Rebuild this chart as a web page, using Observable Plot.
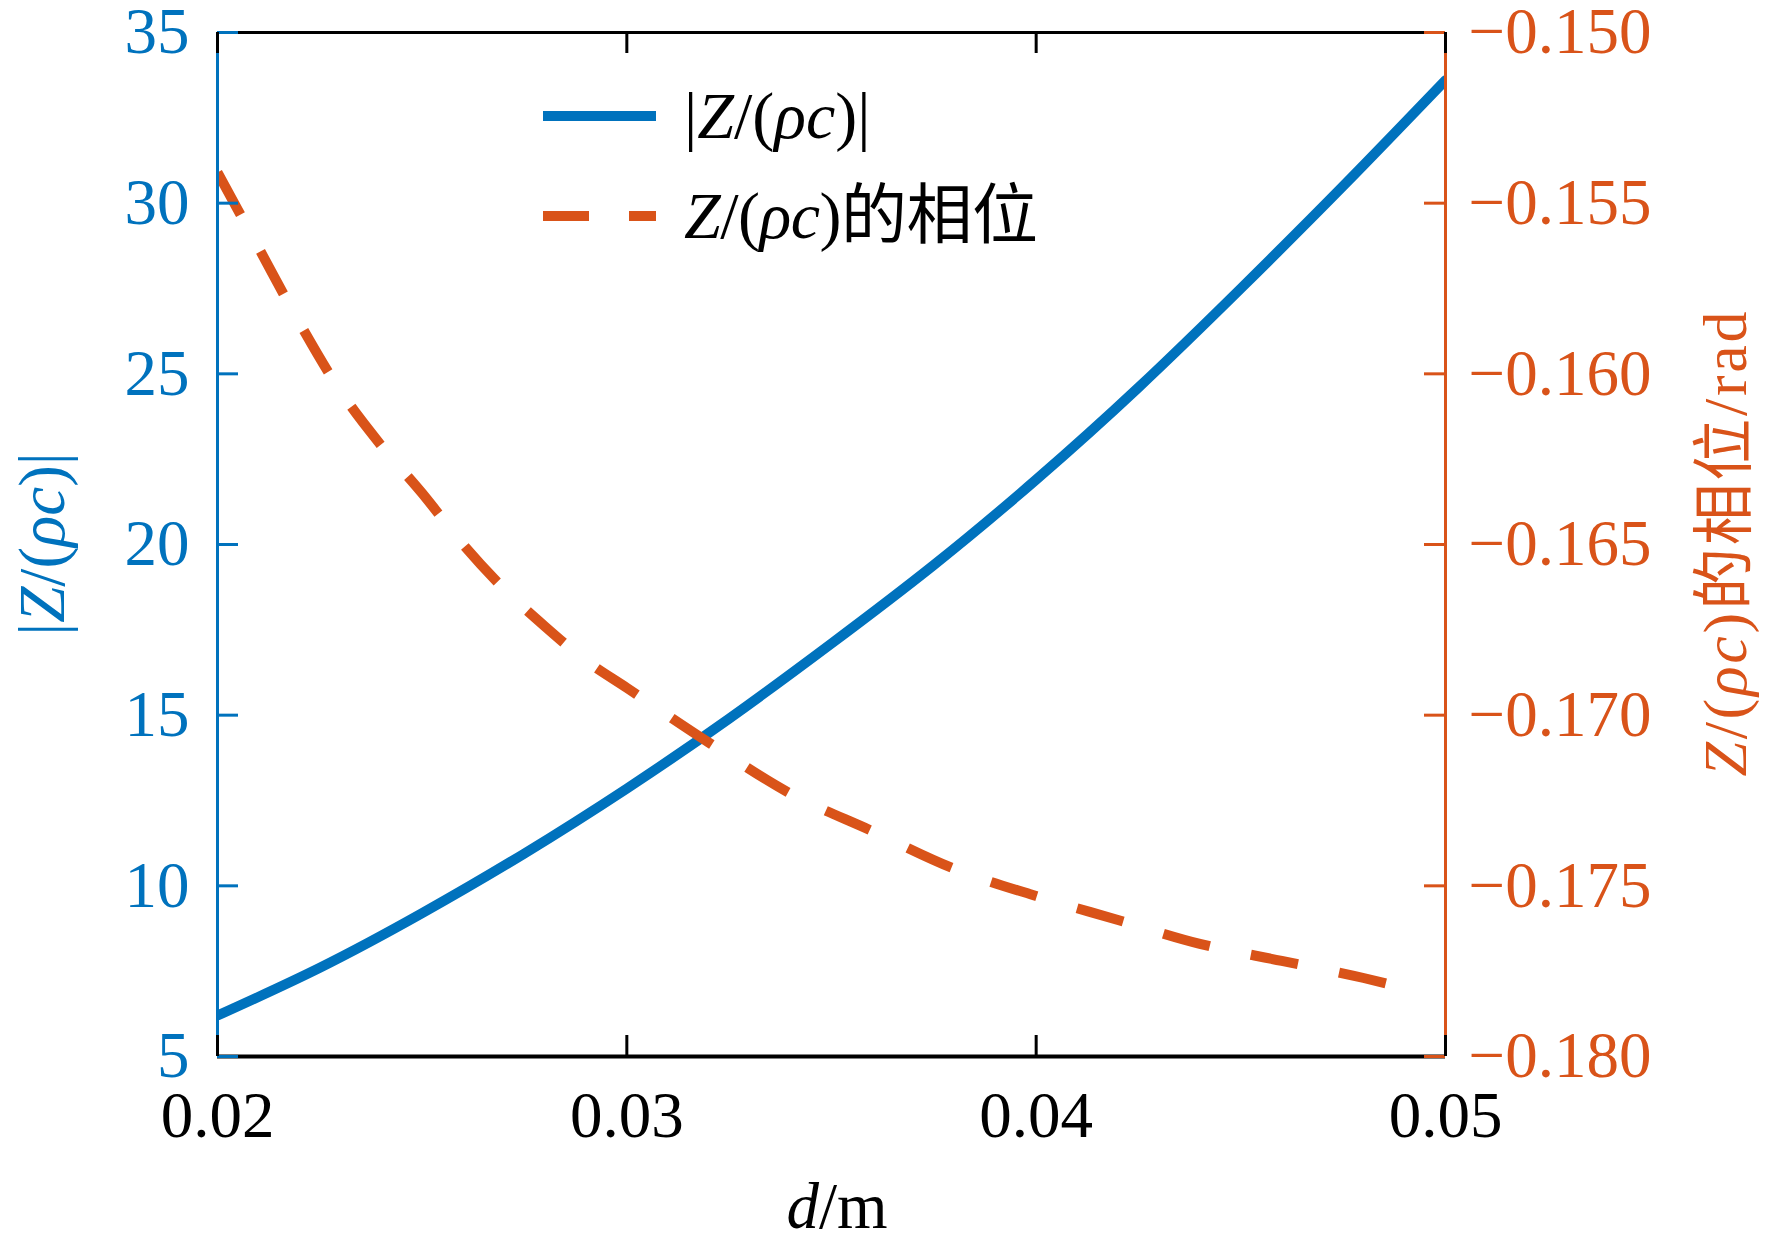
<!DOCTYPE html>
<html>
<head>
<meta charset="utf-8">
<script src="https://cdn.jsdelivr.net/npm/d3@7"></script>
<script src="https://cdn.jsdelivr.net/npm/@observablehq/plot@0.6"></script>
<style>
  html, body { margin: 0; padding: 0; background: #fff; }
  #chart svg { display: block; }
</style>
</head>
<body>
<div id="chart"></div>
<script>
// ---- data ----
const xDomain = [0.02, 0.05];
const leftDomain = [5, 35];
const rightDomain = [-0.180, -0.150];
const xTicks = [0.02, 0.03, 0.04, 0.05];
const leftTicks = [5, 10, 15, 20, 25, 30, 35];
const rightTicks = [-0.180, -0.175, -0.170, -0.165, -0.160, -0.155, -0.150];

const magD = [0.02, 0.0225, 0.025, 0.0275, 0.03, 0.0325, 0.035, 0.0375, 0.04, 0.0425, 0.045, 0.0475, 0.05];
const magV = [6.2, 7.6, 9.2, 10.95, 12.85, 14.9, 17.1, 19.4, 21.9, 24.6, 27.5, 30.5, 33.6];

const phaseD = [0.02, 0.021, 0.022, 0.023, 0.024, 0.025, 0.026, 0.027, 0.028, 0.029, 0.030, 0.032, 0.034, 0.036, 0.038, 0.040, 0.042, 0.044, 0.046, 0.048, 0.049];
const phaseV = [-0.1541, -0.1563, -0.1585, -0.1605, -0.1621, -0.1635, -0.1650, -0.1663, -0.1674, -0.1684, -0.1692, -0.1708, -0.1723, -0.1734, -0.1745, -0.1753, -0.1760, -0.1767, -0.1772, -0.1777, -0.1780];

// ---- styles ----
const BLUE = "#0072BD";
const ORANGE = "#D95319";
const FONT = "'Liberation Serif', 'Noto Sans CJK SC', serif";
const W = 1772, H = 1249, mL = 217, mR = 327, mT = 32, mB = 193;
const pw = W - mL - mR, ph = H - mT - mB;

// map right-axis values onto the left scale (dual axis)
const toLeft = v => leftDomain[0] + (v - rightDomain[0]) / (rightDomain[1] - rightDomain[0]) * (leftDomain[1] - leftDomain[0]);
const fromLeft = y => rightDomain[0] + (y - leftDomain[0]) / (leftDomain[1] - leftDomain[0]) * (rightDomain[1] - rightDomain[0]);

const magData = magD.map((d, i) => ({d, v: magV[i]}));
const phaseData = phaseD.map((d, i) => ({d, v: phaseV[i]}));

const chart = Plot.plot({
  width: W, height: H,
  marginLeft: mL, marginRight: mR, marginTop: mT, marginBottom: mB,
  style: {fontFamily: FONT, background: "#fff", overflow: "visible"},
  x: {domain: xDomain, axis: null},
  y: {domain: leftDomain, axis: null},
  marks: [
    Plot.line(magData, {x: "d", y: "v", stroke: BLUE, strokeWidth: 10, curve: "natural", clip: true}),
    Plot.line(phaseData, {x: "d", y: p => toLeft(p.v), stroke: ORANGE, strokeWidth: 10, strokeDasharray: "48,42", strokeLinecap: "butt", curve: "monotone-x", clip: true}),
    Plot.ruleY([leftDomain[1]], {stroke: "black", strokeWidth: 3}),
    Plot.ruleY([leftDomain[0]], {stroke: "black", strokeWidth: 4}),
    Plot.ruleX([xDomain[0]], {stroke: BLUE, strokeWidth: 3}),
    Plot.ruleX([xDomain[1]], {stroke: ORANGE, strokeWidth: 3}),
    Plot.tickY(leftTicks, {y: d => d, stroke: BLUE, strokeWidth: 3, insetRight: pw - 21}),
    Plot.tickY(rightTicks.map(toLeft), {y: d => d, stroke: ORANGE, strokeWidth: 3, insetLeft: pw - 21}),
    Plot.tickX(xTicks, {x: d => d, stroke: "black", strokeWidth: 3, insetTop: ph - 21}),
    Plot.tickX(xTicks, {x: d => d, stroke: "black", strokeWidth: 3, insetBottom: ph - 21}),
    Plot.axisY({ticks: leftTicks, tickSize: 0, tickPadding: 28, fontSize: 65, color: BLUE, fill: BLUE, label: null}),
    Plot.axisY({anchor: "right", ticks: rightTicks.map(toLeft), tickSize: 0, tickPadding: 23, fontSize: 65, color: ORANGE, fill: ORANGE, label: null,
      tickFormat: y => "\u2212" + Math.abs(fromLeft(y)).toFixed(3)}),
    Plot.axisX({ticks: xTicks, tickSize: 0, tickPadding: 34, fontSize: 65, color: "black", fill: "black", label: null,
      tickFormat: d => d.toFixed(2)})
  ]
});
document.getElementById("chart").append(chart);

// ---- rich text: legend and axis titles ----
const svg = d3.select(chart);
function rich(g, parts) {
  parts.forEach(([t, it]) => {
    const s = g.append("tspan").text(t);
    if (it) s.attr("font-style", "italic");
  });
  return g;
}
const over = svg.append("g").attr("font-family", FONT);

// legend
over.append("line").attr("x1", 543).attr("x2", 656).attr("y1", 116).attr("y2", 116)
  .attr("stroke", BLUE).attr("stroke-width", 10);
over.append("line").attr("x1", 543).attr("x2", 656).attr("y1", 216).attr("y2", 216)
  .attr("stroke", ORANGE).attr("stroke-width", 10).attr("stroke-dasharray", "46,40");
rich(over.append("text").attr("x", 684).attr("y", 138).attr("text-anchor", "start").attr("font-size", 66).attr("fill", "black"),
  [["|", false], ["Z", true], ["/(", false], ["ρc", true], [")|", false]]);
rich(over.append("text").attr("x", 684).attr("y", 238).attr("text-anchor", "start").attr("font-size", 66).attr("fill", "black")
  .attr("textLength", 354).attr("lengthAdjust", "spacing"),
  [["Z", true], ["/(", false], ["ρc", true], [")的相位", false]]);

// left title
rich(over.append("text").attr("transform", "translate(64,544) rotate(-90)").attr("text-anchor", "middle")
  .attr("font-size", 65).attr("fill", BLUE),
  [["|", false], ["Z", true], ["/(", false], ["ρc", true], [")|", false]]);

// right title
rich(over.append("text").attr("transform", "translate(1746,544) rotate(-90)").attr("text-anchor", "middle")
  .attr("font-size", 62).attr("fill", ORANGE).attr("textLength", 465).attr("lengthAdjust", "spacing"),
  [["Z", true], ["/(", false], ["ρc", true], [")的相位/rad", false]]);

// x title
rich(over.append("text").attr("x", 837).attr("y", 1228).attr("text-anchor", "middle")
  .attr("font-size", 65).attr("fill", "black"),
  [["d", true], ["/m", false]]);
</script>
</body>
</html>
